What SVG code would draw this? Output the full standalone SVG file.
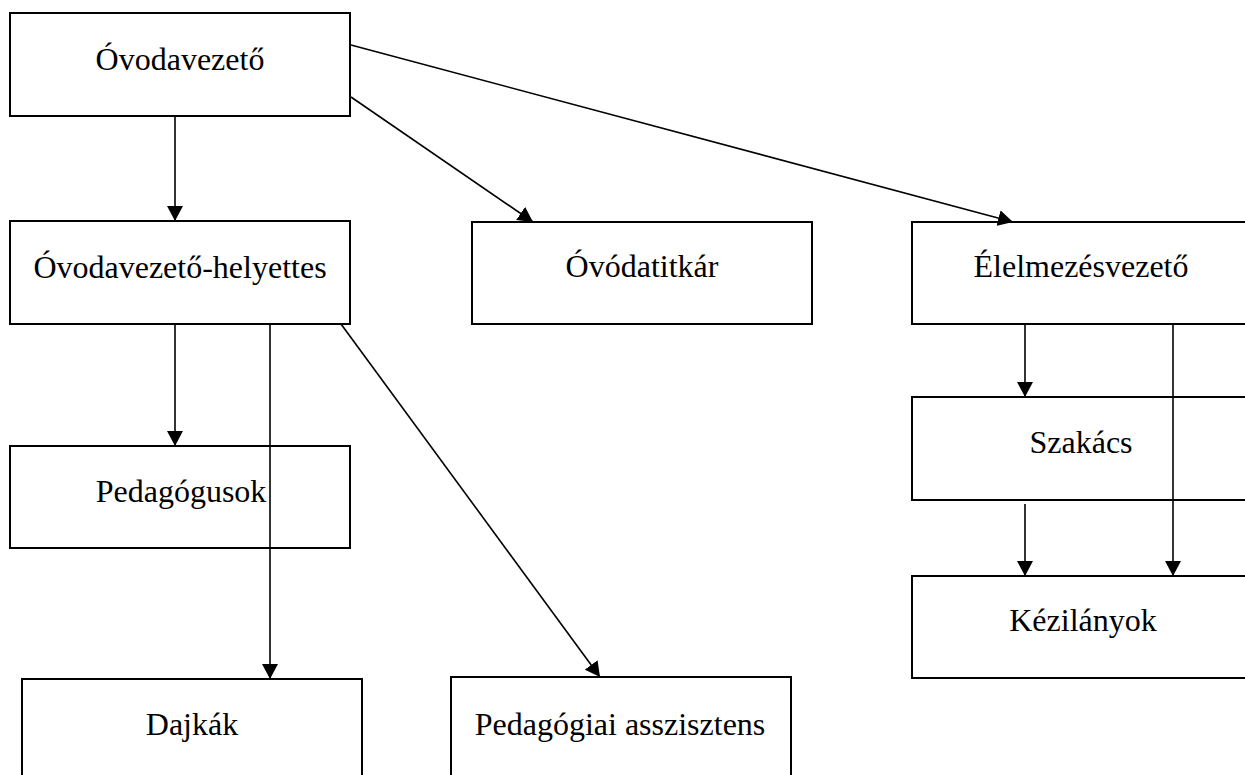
<svg xmlns="http://www.w3.org/2000/svg" width="1245" height="775" viewBox="0 0 1245 775">
<style>
.box{fill:#fff;stroke:#000;stroke-width:2}
.lbl{font-family:"Liberation Serif","Times New Roman",serif;font-size:32px;fill:#000;text-anchor:middle}
.con{stroke:#000;stroke-width:1.6;fill:none}
</style>
<defs>
<marker id="arr" markerUnits="userSpaceOnUse" markerWidth="16" markerHeight="16" refX="15" refY="8" orient="auto">
<path d="M0,0 L15,8 L0,16 z" fill="#000"/>
</marker>
</defs>
<rect width="1245" height="775" fill="#fff"/>
<g id="n-ovodavezeto"><rect class="box" x="10" y="13" width="340" height="103"/><text class="lbl" x="180" y="70">Óvodavezető</text></g>
<g id="n-helyettes"><rect class="box" x="10" y="221" width="340" height="103"/><text class="lbl" x="180" y="278">Óvodavezető-helyettes</text></g>
<g id="n-titkar"><rect class="box" x="472" y="222" width="340" height="102"/><text class="lbl" x="642" y="277">Óvódatitkár</text></g>
<g id="n-elelmezes"><rect class="box" x="912" y="222" width="340" height="102"/><text class="lbl" x="1081" y="277">Élelmezésvezető</text></g>
<g id="n-pedagogusok"><rect class="box" x="10" y="446" width="340" height="102"/><text class="lbl" x="181" y="502">Pedagógusok</text></g>
<g id="n-szakacs"><rect class="box" x="912" y="397" width="340" height="103"/><text class="lbl" x="1081" y="453">Szakács</text></g>
<g id="n-kezilanyok"><rect class="box" x="912" y="576" width="340" height="102"/><text class="lbl" x="1083" y="631">Kézilányok</text></g>
<g id="n-dajkak"><rect class="box" x="22" y="679" width="340" height="110"/><text class="lbl" x="192" y="735">Dajkák</text></g>
<g id="n-asszisztens"><rect class="box" x="451" y="677" width="340" height="110"/><text class="lbl" x="620" y="735">Pedagógiai asszisztens</text></g>
<g id="connectors">
<line class="con" x1="175" y1="116" x2="175" y2="221" marker-end="url(#arr)"/>
<line class="con" x1="351" y1="97" x2="533" y2="222" marker-end="url(#arr)"/>
<line class="con" x1="351" y1="45" x2="1013" y2="222" marker-end="url(#arr)"/>
<line class="con" x1="175" y1="324" x2="175" y2="446" marker-end="url(#arr)"/>
<line class="con" x1="270" y1="324" x2="270" y2="679" marker-end="url(#arr)"/>
<line class="con" x1="341" y1="324" x2="600" y2="677" marker-end="url(#arr)"/>
<line class="con" x1="1025" y1="324" x2="1025" y2="397" marker-end="url(#arr)"/>
<line class="con" x1="1173" y1="324" x2="1173" y2="576" marker-end="url(#arr)"/>
<line class="con" x1="1025" y1="504" x2="1025" y2="576" marker-end="url(#arr)"/>
</g>
</svg>
